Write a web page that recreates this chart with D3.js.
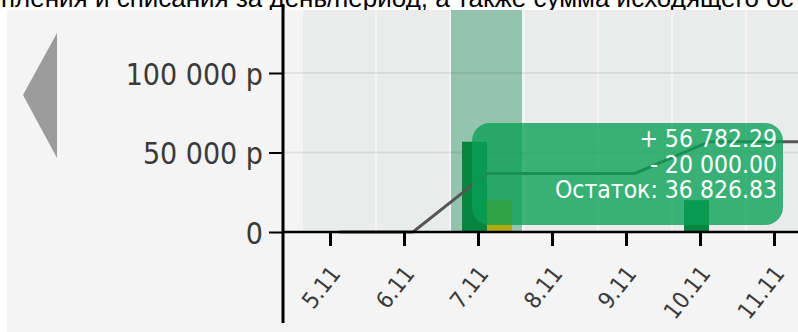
<!DOCTYPE html>
<html>
<head>
<meta charset="utf-8">
<script src="https://cdn.jsdelivr.net/npm/d3@7"></script>
<style>
  body { margin: 0; background: #fff; }
  svg { display: block; }
</style>
</head>
<body>
<div id="chart"></div>
<script>
// данные за период
const days = ["5.11", "6.11", "7.11", "8.11", "9.11", "10.11", "11.11", "12.11"];
const income = [0, 0, 56782.29, 0, 0, 20000, 0, 0];
const expense = [0, 0, 20000, 0, 0, 0, 0, 0];
const balance = [0, 0, 36826.83, 36826.83, 36826.83, 56826.83, 56826.83, 56826.83];
const yTicks = [0, 50000, 100000];
const selectedDay = "7.11";
const title = "Поступления и списания за день/период, а также сумма исходящего остатка";

const width = 798, height = 332;
const axisX = 283;

const locale = d3.formatLocale({ decimal: ".", thousands: " ", grouping: [3], currency: ["", ""] });
const fmtInt = locale.format(",");
const fmtMoney = locale.format(",.2f");

const svg = d3.select("#chart")
  .append("svg")
    .attr("width", width)
    .attr("height", height);

// заголовок (обрезан сверху и слева)
const t = svg.append("text")
  .attr("y", 7)
  .style("font-family", "'Liberation Sans', Arial, sans-serif")
  .style("font-size", "26px")
  .style("fill", "#000")
  .text("Посту");
const prefixLen = t.node().getComputedTextLength();
t.attr("x", 1 - prefixLen).text(title);

// панель
svg.append("rect")
  .attr("x", 7).attr("y", 10)
  .attr("width", width - 7).attr("height", height - 10)
  .style("fill", "#f4f4f4");

// стрелка назад
svg.append("path")
  .attr("d", "M57,33 L23,95 L57,158 Z")
  .style("fill", "#9b9b9b");

const x = d3.scaleBand()
  .domain(days)
  .range([303, 303 + 74 * days.length - 2])
  .paddingInner(2 / 74)
  .paddingOuter(0);
const bw = x.bandwidth();

const xTick = x.copy().range([303 - 8.5, 303 - 8.5 + 74 * days.length - 2]);

const y = d3.scaleLinear()
  .domain([0, 100000])
  .range([232, 73]);

// полосы дней
svg.selectAll("rect.band")
  .data(days)
  .enter()
  .append("rect")
    .attr("class", "band")
    .attr("x", d => x(d))
    .attr("y", 10)
    .attr("width", d => d === selectedDay ? bw - 1 : bw)
    .attr("height", y(0) - 10)
    .style("fill", d => d === selectedDay ? "#95c4ae" : "#e9eceb");

// сетка
svg.selectAll("line.grid")
  .data(yTicks.filter(d => d > 0))
  .enter()
  .append("line")
    .attr("x1", axisX).attr("x2", width)
    .attr("y1", d => y(d)).attr("y2", d => y(d))
    .style("stroke", "rgba(0,0,0,0.07)")
    .style("stroke-width", 2);

// столбцы
svg.selectAll("rect.inc")
  .data(days)
  .enter()
  .append("rect")
    .attr("x", d => x(d) + bw / 2 - 25)
    .attr("y", (d, i) => y(income[i]))
    .attr("width", 25)
    .attr("height", (d, i) => y(0) - y(income[i]))
    .style("fill", "#05853f");

svg.selectAll("rect.exp")
  .data(days)
  .enter()
  .append("rect")
    .attr("x", d => x(d) + bw / 2)
    .attr("y", (d, i) => y(expense[i]))
    .attr("width", 25)
    .attr("height", (d, i) => y(0) - y(expense[i]))
    .style("fill", "#b4a90f");

// линия остатка
const line = d3.line()
  .x((d, i) => x(days[i]) + bw / 2)
  .y(d => y(d));

svg.append("path")
  .datum(balance)
  .attr("d", line)
  .style("fill", "none")
  .style("stroke", "#555")
  .style("stroke-width", 3);

// ось X
const gx = svg.append("g")
  .attr("transform", "translate(0," + y(0) + ")")
  .call(d3.axisBottom(xTick).tickSize(14).tickSizeOuter(0));
gx.select(".domain").remove();
gx.selectAll(".tick line").style("stroke", "#000").style("stroke-width", 3);
gx.selectAll(".tick text")
  .attr("text-anchor", "end")
  .attr("x", 0).attr("y", 0).attr("dy", 0)
  .attr("transform", "translate(11,42) rotate(-52)")
  .style("font-family", "'DejaVu Sans Condensed', 'DejaVu Sans', sans-serif")
  .style("font-stretch", "condensed")
  .style("font-size", "23px")
  .style("fill", "#3a3a3a");

svg.append("line")
  .attr("x1", axisX).attr("x2", width)
  .attr("y1", y(0)).attr("y2", y(0))
  .style("stroke", "#000")
  .style("stroke-width", 2.5);

// ось Y
const gy = svg.append("g")
  .attr("transform", "translate(" + axisX + ",0)")
  .call(d3.axisLeft(y).tickValues(yTicks).tickSize(14)
    .tickFormat(d => d === 0 ? "0" : fmtInt(d) + " р"));
gy.select(".domain").remove();
gy.selectAll(".tick line").style("stroke", "#000").style("stroke-width", 2);
gy.selectAll(".tick text")
  .attr("x", -20)
  .attr("dy", 11)
  .style("font-family", "'DejaVu Sans Condensed', 'DejaVu Sans', sans-serif")
  .style("font-stretch", "condensed")
  .style("font-size", "30px")
  .style("fill", "#3a3a3a");

svg.append("line")
  .attr("x1", axisX).attr("x2", axisX)
  .attr("y1", 4).attr("y2", 323)
  .style("stroke", "#000")
  .style("stroke-width", 3);

// подсказка
const si = days.indexOf(selectedDay);
const tipX = x(selectedDay) + 21;
const tipY = 123;
const tipW = 311, tipH = 102;
const tipLines = [
  "+ " + fmtMoney(income[si]),
  "- " + fmtMoney(expense[si]),
  "Остаток: " + fmtMoney(balance[si])
];

svg.append("rect")
  .attr("x", tipX).attr("y", tipY)
  .attr("width", tipW).attr("height", tipH)
  .attr("rx", 18).attr("ry", 18)
  .style("fill", "rgba(8,160,85,0.78)");

svg.selectAll("text.tip")
  .data(tipLines)
  .enter()
  .append("text")
    .attr("class", "tip")
    .attr("x", tipX + tipW - 6)
    .attr("y", (d, i) => tipY + 24 + i * 25.5)
    .attr("text-anchor", "end")
    .style("font-family", "'DejaVu Sans Condensed', 'DejaVu Sans', sans-serif")
    .style("font-stretch", "condensed")
    .style("font-size", "24.5px")
    .style("fill", "#fff")
    .text(d => d);
</script>
</body>
</html>
